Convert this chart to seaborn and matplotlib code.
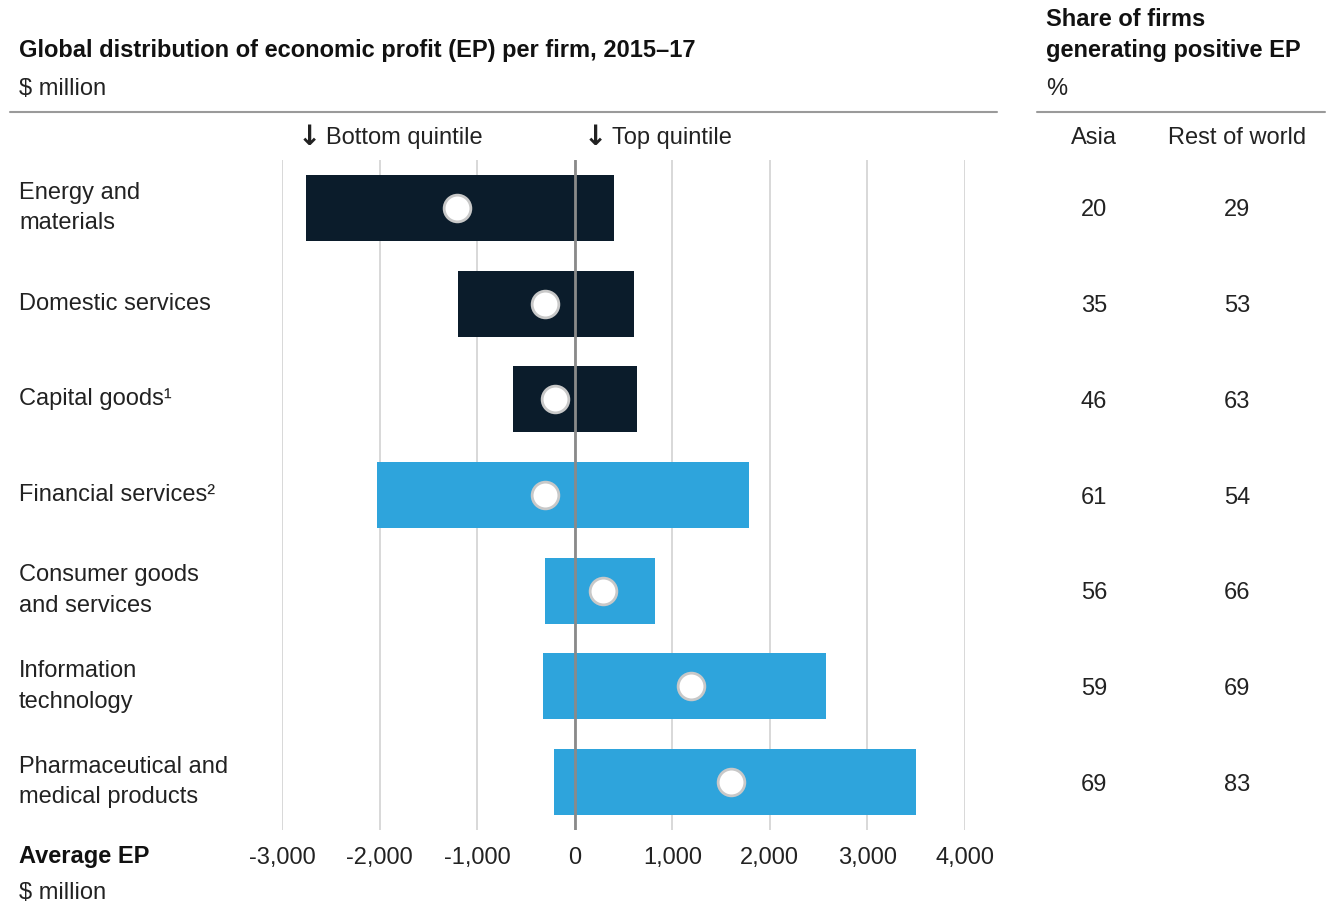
import matplotlib.pyplot as plt
import matplotlib.transforms as mtransforms
import pandas as pd
import seaborn as sns

# Data ($ million, average EP per firm, 2015-17)
sectors = ['Energy and\nmaterials', 'Domestic services', 'Capital goods\u00b9',
           'Financial services\u00b2', 'Consumer goods\nand services',
           'Information\ntechnology', 'Pharmaceutical and\nmedical products']
bottom_quintile = [-2750, -1200, -635, -2025, -300, -330, -215]
top_quintile = [400, 605, 635, 1790, 820, 2580, 3500]
average_ep = [-1210, -305, -205, -305, 290, 1190, 1600]
group = ['dark', 'dark', 'dark', 'blue', 'blue', 'blue', 'blue']
asia_share = [20, 35, 46, 61, 56, 59, 69]
rest_share = [29, 53, 63, 54, 66, 69, 83]
x_ticks = [-3000, -2000, -1000, 0, 1000, 2000, 3000, 4000]

df = pd.DataFrame({'sector': sectors, 'bottom': bottom_quintile, 'top': top_quintile,
                   'avg': average_ep, 'group': group})

sns.set_style('white')
plt.rcParams['font.family'] = ['Liberation Sans', 'DejaVu Sans']
FS = 17
TXT = '#222222'

W, H = 1326, 909
fig = plt.figure(figsize=(W / 100, H / 100), dpi=100)
ax = fig.add_axes([282 / W, (H - 830) / H, 683 / W, 670 / H])

pal = {'dark': '#0b1c2b', 'blue': '#2ea4dc'}
# each bar spans zero, so draw the positive and negative halves from 0
for col in ['top', 'bottom']:
    sns.barplot(data=df, y='sector', x=col, hue='group', palette=pal, dodge=False,
                saturation=1, width=0.69, linewidth=0, legend=False, ax=ax, orient='h')
sns.scatterplot(data=df, y='sector', x='avg', s=370, color='white',
                edgecolor='#c8c8c8', linewidth=2, zorder=5, ax=ax)

ax.set_xlim(-3000, 4000)
ax.set_ylim(len(sectors) - 0.5, -0.5)
ax.set_xticks(x_ticks)
ax.set_xticklabels([f'{v:,}' for v in x_ticks], fontsize=FS, color=TXT)
ax.tick_params(axis='x', length=0, pad=12)
ax.set_yticks([])
ax.set_xlabel('')
ax.set_ylabel('')
ax.grid(axis='x', color='#d6d6d6', linewidth=1.3)
ax.set_axisbelow(True)
ax.axvline(0, color='#8a8a8a', linewidth=2, zorder=4)
for spine in ax.spines.values():
    spine.set_visible(False)

# row labels and share columns
rows = mtransforms.blended_transform_factory(fig.transFigure, ax.transData)
for i, name in enumerate(sectors):
    fig.text(19 / W, i, name, transform=rows, ha='left', va='center',
             fontsize=FS, color=TXT, linespacing=1.5)
    fig.text(1094 / W, i, str(asia_share[i]), transform=rows, ha='center',
             va='center_baseline', fontsize=FS, color=TXT)
    fig.text(1237 / W, i, str(rest_share[i]), transform=rows, ha='center',
             va='center_baseline', fontsize=FS, color=TXT)

def fx(x):
    return x / W

def fy(y):
    return 1 - y / H

fig.text(fx(19), fy(50), 'Global distribution of economic profit (EP) per firm, 2015\u201317',
         fontsize=FS, fontweight='bold', va='center', color='#111111')
fig.text(fx(19), fy(89), '$ million', fontsize=FS, va='center', color=TXT)
fig.text(fx(1046), fy(20), 'Share of firms', fontsize=FS, fontweight='bold',
         va='center', color='#111111')
fig.text(fx(1046), fy(50), 'generating positive EP', fontsize=FS, fontweight='bold',
         va='center', color='#111111')
fig.text(fx(1046), fy(89), '%', fontsize=FS, va='center', color=TXT)
fig.add_artist(plt.Line2D([fx(10), fx(997)], [fy(112), fy(112)], color='#9a9a9a', lw=1.5))
fig.add_artist(plt.Line2D([fx(1037), fx(1325)], [fy(112), fy(112)], color='#9a9a9a', lw=1.5))

for x0, label in [(298, 'Bottom quintile'), (584, 'Top quintile')]:
    fig.text(fx(x0), fy(137), '\u2193', fontsize=20, va='center', color=TXT,
             family=['DejaVu Sans'], fontweight='bold')
    fig.text(fx(x0 + 28), fy(138), label, fontsize=FS, va='center', color=TXT)
fig.text(fx(1094), fy(138), 'Asia', fontsize=FS, va='center', ha='center', color=TXT)
fig.text(fx(1237), fy(138), 'Rest of world', fontsize=FS, va='center', ha='center',
         color=TXT)

fig.text(fx(19), fy(857), 'Average EP', fontsize=FS, fontweight='bold', va='center',
         color='#111111')
fig.text(fx(19), fy(893), '$ million', fontsize=FS, va='center', color=TXT)

fig.savefig('out.png', dpi=100)
